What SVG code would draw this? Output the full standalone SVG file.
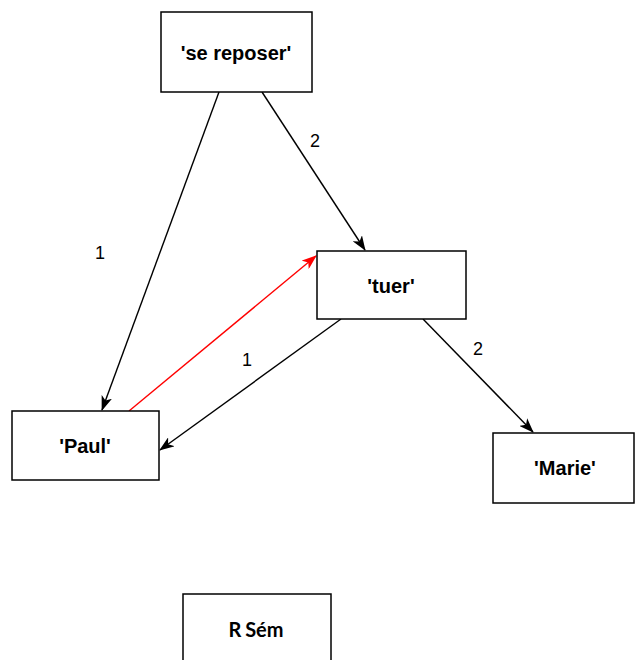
<svg xmlns="http://www.w3.org/2000/svg" width="635" height="660" viewBox="0 0 635 660">
<style>
.box{fill:#fff;stroke:#000;stroke-width:1.5}
.lbl{font-family:"Liberation Sans",Arial,sans-serif;font-weight:bold;font-size:20px;text-anchor:middle;fill:#000}
.num{font-family:"Liberation Sans",Arial,sans-serif;font-size:18px;text-anchor:middle;fill:#000}
.e{fill:none;stroke:#000;stroke-width:1.4}
.r{fill:none;stroke:#ff0000;stroke-width:1.4}
</style>
<defs>
<marker id="a" viewBox="0 0 15 11" refX="14" refY="5.5" markerWidth="15" markerHeight="11" markerUnits="userSpaceOnUse" orient="auto">
<path d="M0,0 L15,5.5 L0,11 L4,5.5 Z" fill="#000"/>
</marker>
<marker id="ar" viewBox="0 0 15 11" refX="14" refY="5.5" markerWidth="15" markerHeight="11" markerUnits="userSpaceOnUse" orient="auto">
<path d="M0,0 L15,5.5 L0,11 L4,5.5 Z" fill="#ff0000"/>
</marker>
</defs>
<g id="connectors">
<line class="e" x1="219" y1="92" x2="102" y2="410" marker-end="url(#a)"/>
<line class="e" x1="262" y1="92" x2="365" y2="250" marker-end="url(#a)"/>
<line class="e" x1="341" y1="319" x2="160" y2="450" marker-end="url(#a)"/>
<line class="e" x1="423" y1="319" x2="533" y2="432" marker-end="url(#a)"/>
<line class="r" x1="129" y1="411" x2="316" y2="256" marker-end="url(#ar)"/>
<text class="num" x="100" y="259">1</text>
<text class="num" x="315" y="147">2</text>
<text class="num" x="247" y="366">1</text>
<text class="num" x="478" y="355">2</text>
</g>
<g id="se_reposer">
<rect class="box" x="161" y="12" width="151" height="80"/>
<text class="lbl" x="236" y="60">'se reposer'</text>
</g>
<g id="tuer">
<rect class="box" x="317" y="251" width="149" height="68"/>
<text class="lbl" x="391" y="293">'tuer'</text>
</g>
<g id="Paul">
<rect class="box" x="12" y="411" width="147" height="69"/>
<text class="lbl" x="85" y="453">'Paul'</text>
</g>
<g id="Marie">
<rect class="box" x="493" y="433" width="141" height="70"/>
<text class="lbl" x="565" y="475">'Marie'</text>
</g>
<g id="RSem">
<rect class="box" x="183" y="594" width="148" height="80"/>
<text x="256" y="637" style="font-family:Lato,'Open Sans',sans-serif;font-weight:bold;font-size:20px;text-anchor:middle;fill:#000;word-spacing:-1px">R Sém</text>
</g>
</svg>
